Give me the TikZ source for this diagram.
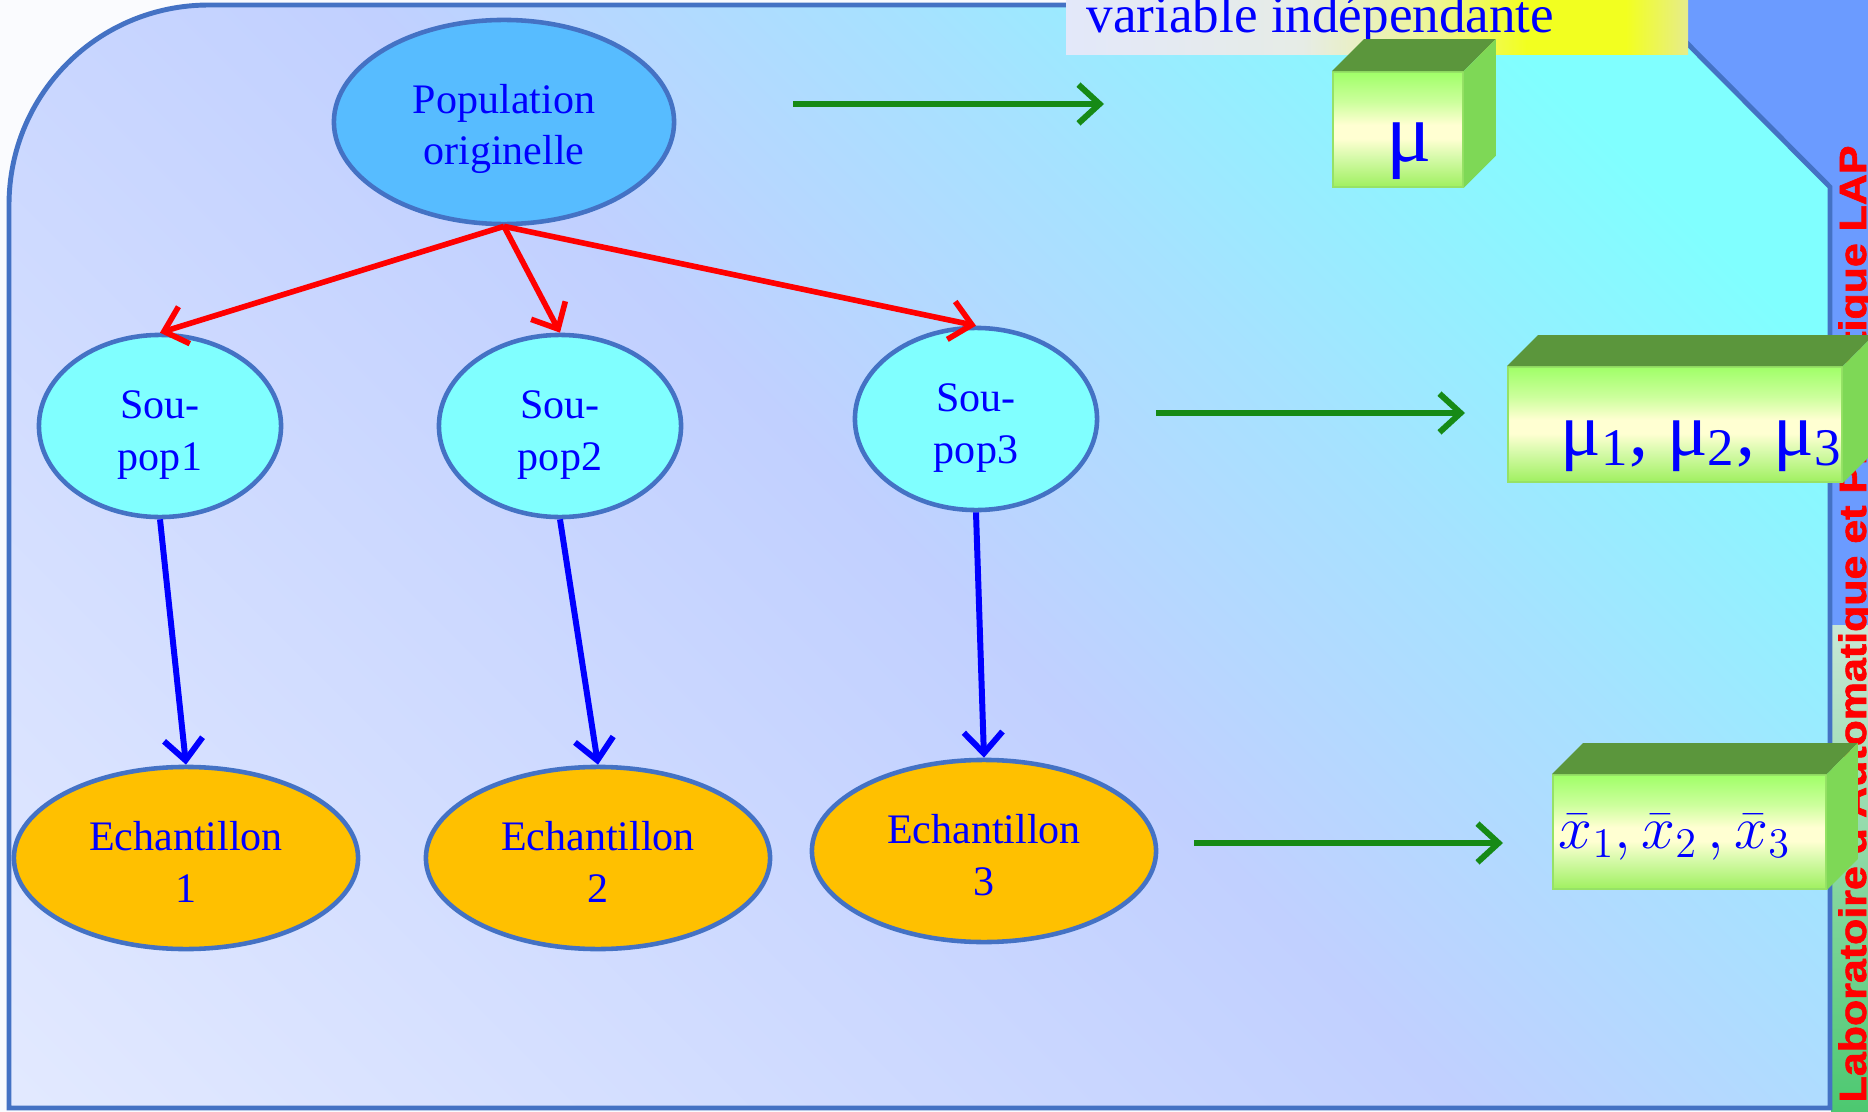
\documentclass[tikz,border=0pt]{standalone}
\usepackage{fontspec}
\setmainfont{Liberation Serif}
\newfontfamily\labfont{Liberation Sans}[FakeBold=1.6]
\usetikzlibrary{shapes.geometric,arrows.meta,calc}

\definecolor{frameline}{HTML}{4472C4}
\definecolor{popfill}{HTML}{57BCFF}
\definecolor{subfill}{HTML}{80FFFF}
\definecolor{echfill}{HTML}{FFC000}
\definecolor{txtblue}{HTML}{0000FF}
\definecolor{arrred}{HTML}{FF0000}
\definecolor{arrblue}{HTML}{0000FF}
\definecolor{arrgreen}{HTML}{168A16}
\definecolor{topblue}{HTML}{6B9BFF}
\definecolor{paper}{HTML}{FAFBFE}
\definecolor{cubetop}{HTML}{5B963C}
\definecolor{cubeside}{HTML}{7ED856}
\definecolor{cubeedge}{HTML}{96E266}
\definecolor{bgA}{HTML}{E2E9FF}
\definecolor{bgB}{HTML}{C1D0FF}
\definecolor{bgC}{HTML}{A6E2FF}
\definecolor{bgD}{HTML}{80FFFF}
\definecolor{lbA}{HTML}{E3E8FA}
\definecolor{lbB}{HTML}{E6ECE6}
\definecolor{lbC}{HTML}{EEF590}
\definecolor{lbD}{HTML}{F2FF20}
\definecolor{lbE}{HTML}{E6EC8C}
\definecolor{cgA}{HTML}{A0F060}
\definecolor{cgB}{HTML}{D6FAAA}
\definecolor{cgC}{HTML}{FFFFD2}
\definecolor{cgD}{HTML}{CCFF9C}
\definecolor{cgE}{HTML}{A0FF68}
\definecolor{stripT}{HTML}{C8E8D6}
\definecolor{stripB}{HTML}{4CC870}

\pgfdeclarehorizontalshading{bgshade}{100bp}{color(0bp)=(bgA); color(15bp)=(bgA); color(50bp)=(bgB); color(63bp)=(bgC); color(77bp)=(bgD); color(100bp)=(bgD)}
\pgfdeclarehorizontalshading{labshade}{100bp}{color(0bp)=(lbA); color(25bp)=(lbA); color(44bp)=(lbB); color(55bp)=(lbC); color(62bp)=(lbD); color(70bp)=(lbD); color(75bp)=(lbE); color(100bp)=(lbE)}
\pgfdeclareverticalshading{cubefront}{100bp}{color(0bp)=(cgA); color(25bp)=(cgA); color(38bp)=(cgB); color(46bp)=(cgC); color(52bp)=(cgC); color(62bp)=(cgD); color(75bp)=(cgE); color(100bp)=(cgE)}
\pgfdeclareverticalshading{stripshade}{100bp}{color(0bp)=(stripB); color(25bp)=(stripB); color(75bp)=(stripT); color(100bp)=(stripT)}

\newcommand\drawcube[2]{%
  \fill[cubetop] (#1.north west) -- ++(#2,-#2) -- ([shift={(#2,-#2)}]#1.north east) -- (#1.north east) -- cycle;
  \fill[cubeside] (#1.north east) -- ++(#2,-#2) -- ([shift={(#2,-#2)}]#1.south east) -- (#1.south east) -- cycle;
}

\tikzset{
  ell/.style={ellipse, draw=frameline, line width=1.3pt, inner sep=0pt},
  popell/.style={ell, fill=popfill, minimum width=3.40cm, minimum height=2.04cm},
  subell/.style={ell, fill=subfill, minimum width=2.42cm, minimum height=1.82cm},
  echell/.style={ell, fill=echfill, minimum width=3.44cm, minimum height=1.82cm},
  elltext/.style={inner sep=0pt, align=center, text=txtblue, font=\fontsize{11.95}{14.6}\selectfont},
  redarr/.style={draw=arrred, line width=1.6pt, -{Straight Barb[length=6pt,width=11pt]}},
  bluearr/.style={draw=arrblue, line width=1.7pt, -{Straight Barb[length=6pt,width=11pt]}},
  greenarr/.style={draw=arrgreen, line width=1.7pt, -{Straight Barb[length=6pt,width=11pt]}},
  cubeface/.style={shade, shading=cubefront, draw=cubeedge, line width=0.5pt, anchor=north west, inner sep=0pt},
  boxtext/.style={inner sep=0pt, text=txtblue}
}

\begin{document}
\begin{tikzpicture}[x=0.01cm, y=-0.01cm]
\useasboundingbox (0,0) rectangle (1868,1112);
\clip (0,0) rectangle (1868,1112);

% page background
\fill[paper] (0,0) rectangle (1868,1112);
\fill[topblue] (1560,0) rectangle (1868,625);
\shade[shading=stripshade] (1831,625) rectangle (1868,1112);

% vertical lab name
\node[rotate=90, anchor=base west, inner sep=0pt, text=arrred,
      font=\labfont\bfseries\fontsize{10.8}{13}\selectfont] (labtxt) at (1866,1103)
      {\scalebox{1.13}[1]{Laboratoire d'Automatique et Productique LAP}};

% main frame
\path[shade, shading=bgshade, shading angle=45, draw=frameline, line width=1.4pt]
  (9,1108) -- (9,205) .. controls (9,94) and (98,5) .. (209,5) -- (1649,5) -- (1830,187) -- (1830,1108) -- cycle;

% title label
\shade[shading=labshade] (1066,0) rectangle (1688,54);
\node[anchor=base west, boxtext, font=\fontsize{15.1}{18}\selectfont] (vartxt) at (1086,32) {variable indépendante};

% ellipses
\node[popell] (pop) at (504,122) {};
\node[subell] (s1) at (160,426) {};
\node[subell] (s2) at (560,426) {};
\node[subell] (s3) at (976,419) {};
\node[echell] (e1) at (186,858) {};
\node[echell] (e2) at (598,858) {};
\node[echell] (e3) at (984,851) {};

\node[elltext] (popt) at (504,129) {Population\\originelle};
\node[elltext] (s1t) at (160,435) {Sou-\\pop1};
\node[elltext] (s2t) at (560,435) {Sou-\\pop2};
\node[elltext] (s3t) at (976,428) {Sou-\\pop3};
\node[elltext] (e1t) at (186,862) {Echantillon\\1};
\node[elltext] (e2t) at (598,862) {Echantillon\\2};
\node[elltext] (e3t) at (984,855) {Echantillon\\3};

% arrows
\draw[redarr] (pop.south) -- (s1.north);
\draw[redarr] (pop.south) -- (s2.north);
\draw[redarr] (pop.south) -- (s3.north);
\draw[bluearr] (s1.south) -- (e1.north);
\draw[bluearr] (s2.south) -- (e2.north);
\draw[bluearr] (s3.south) -- (e3.north);

\coordinate (g1s) at (793,104);
\coordinate (g1e) at (1104,104);
\coordinate (g2s) at (1156,413);
\coordinate (g2e) at (1465,413);
\coordinate (g3s) at (1194,843);
\coordinate (g3e) at (1503,843);
\draw[greenarr] (g1s) -- (g1e);
\draw[greenarr] (g2s) -- (g2e);
\draw[greenarr] (g3s) -- (g3e);

% cubes
\node[cubeface, minimum width=1.30cm, minimum height=1.15cm] (mubox) at (1332,71) {};
\drawcube{mubox}{32}
\node[cubeface, minimum width=3.34cm, minimum height=1.15cm] (musbox) at (1507,366) {};
\drawcube{musbox}{31}
\node[cubeface, minimum width=2.73cm, minimum height=1.14cm] (xbox) at (1552,774) {};
\drawcube{xbox}{31}

\node[anchor=base, boxtext, font=\fontsize{24}{28}\selectfont] (mutxt) at (1409,162) {μ};
\node[anchor=base west, boxtext, font=\fontsize{21.5}{25}\selectfont] (mustxt) at (1560,455)
  {μ\textsubscript{1}, μ\textsubscript{2}, μ\textsubscript{3}};
\node[anchor=base west, boxtext, font=\fontsize{18.3}{22}\selectfont] (xtxt) at (1558,848)
  {$\bar{x}_1,\bar{x}_2\,,\bar{x}_3$};
\end{tikzpicture}
\end{document}
